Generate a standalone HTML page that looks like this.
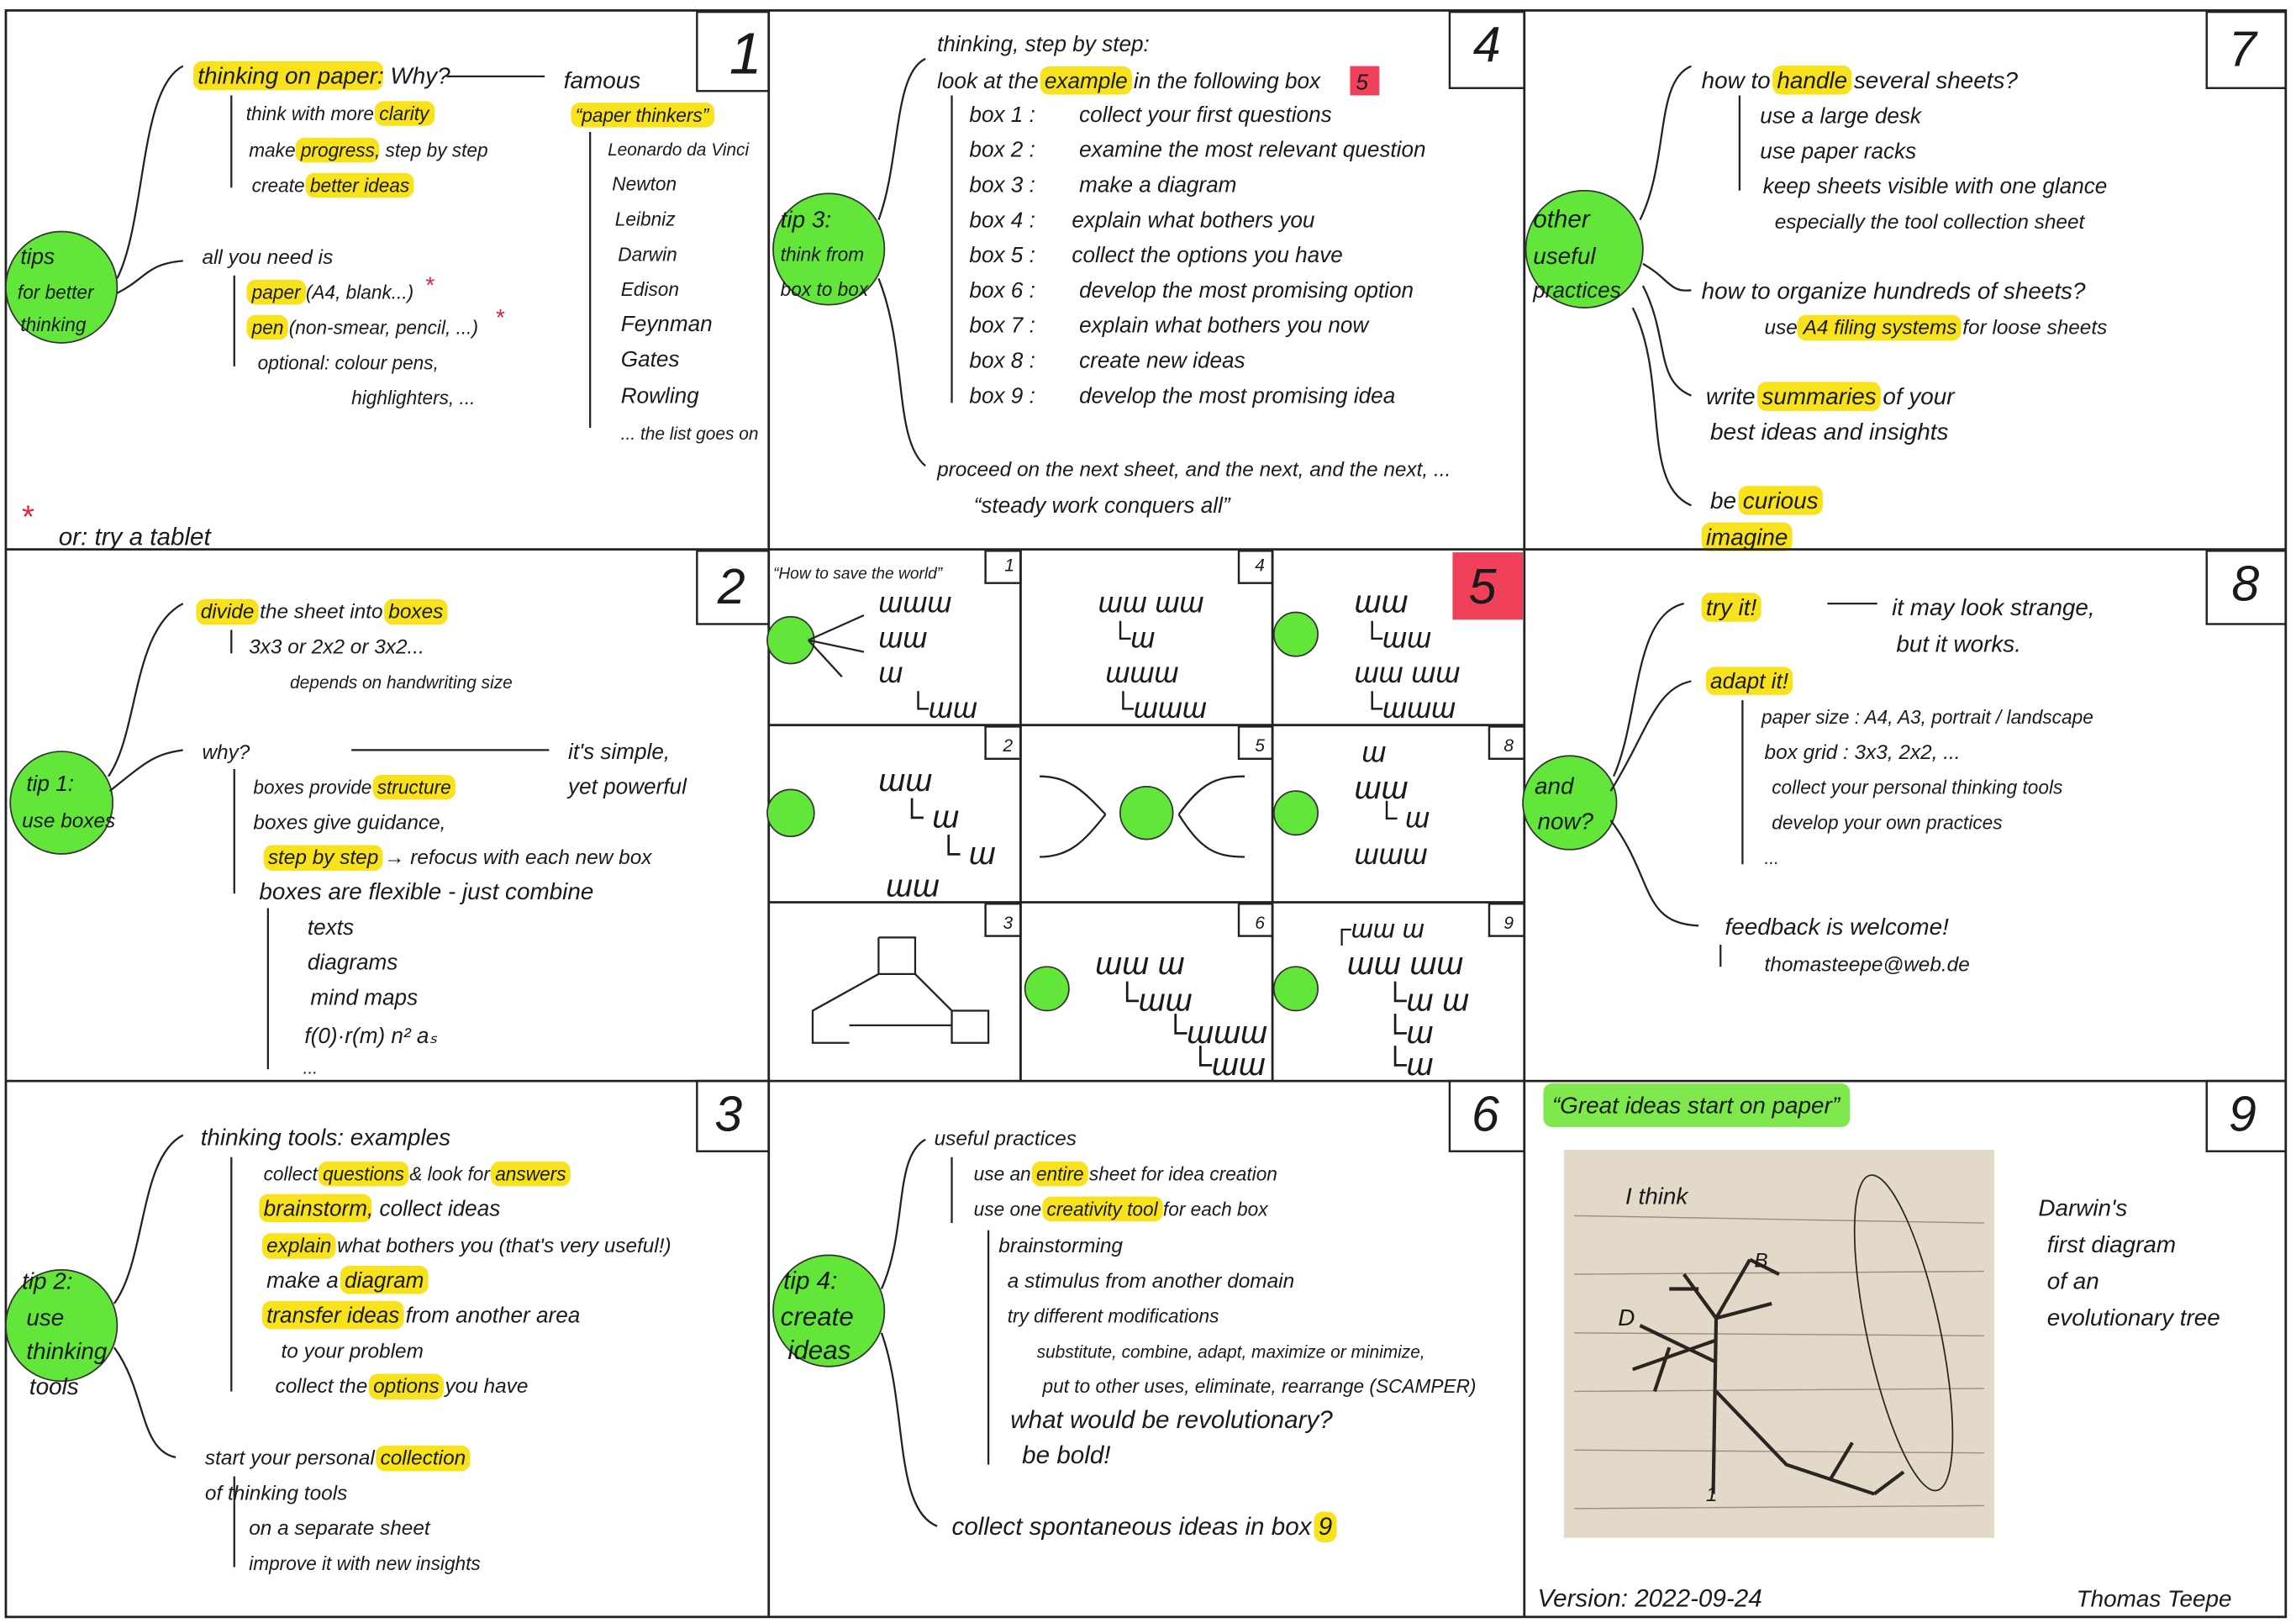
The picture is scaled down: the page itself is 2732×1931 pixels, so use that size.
<!DOCTYPE html>
<html><head><meta charset="utf-8">
<style>
html,body{margin:0;padding:0;background:#fff;}
svg{display:block}
text{font-family:"Liberation Sans",sans-serif;font-style:italic;fill:#1a1a1a;}
</style></head>
<body>
<svg id="s" width="2732" height="1931" viewBox="0 0 1568 1108" xmlns="http://www.w3.org/2000/svg">
<rect x="0" y="0" width="1568" height="1108" fill="#fff"/>
<g id="hl"></g>
<g id="grid" stroke="#222" stroke-width="1.6" fill="none">
  <rect x="4" y="7" width="1557" height="1097"/>
  <line x1="525" y1="7" x2="525" y2="1104"/>
  <line x1="1041" y1="7" x2="1041" y2="1104"/>
  <line x1="4" y1="375" x2="1561" y2="375"/>
  <line x1="4" y1="738" x2="1561" y2="738"/>
  <line x1="697" y1="375" x2="697" y2="738"/>
  <line x1="869" y1="375" x2="869" y2="738"/>
  <line x1="525" y1="495" x2="1041" y2="495"/>
  <line x1="525" y1="616" x2="1041" y2="616"/>
</g>
<rect x="992" y="377" width="48" height="46" fill="#f0405a"/>
<g id="nb" stroke="#222" stroke-width="1.4" fill="none"></g>
<g id="blobs"></g>
<g id="lines" stroke="#222" stroke-width="1.3" fill="none"></g>
<g id="darwin">
  <rect x="1068" y="785" width="294" height="265" fill="#e3d9c8"/>
  <g stroke="#9a8f80" stroke-width="0.8" fill="none">
    <path d="M1075 830 L1355 835 M1075 870 L1355 868 M1075 910 L1355 912 M1075 950 L1355 948 M1075 990 L1355 992 M1075 1030 L1355 1028"/>
  </g>
  <g stroke="#2a2520" stroke-width="2.4" fill="none">
    <path d="M1170 1020 L1172 900 L1150 870 M1172 900 L1195 860 M1172 930 L1120 905 M1172 950 L1220 1000 L1280 1020 M1140 920 L1130 950 M1160 880 L1140 880 M1195 860 L1215 870 M1172 900 L1210 890 M1172 915 L1115 935 M1250 1010 L1265 985 M1280 1020 L1300 1005"/>
    <ellipse cx="1300" cy="910" rx="25" ry="110" transform="rotate(-12 1300 910)" stroke-width="1"/>
  </g>
  <text x="1110" y="822" font-size="16">I think</text>
  <text x="1105" y="905" font-size="16">D</text>
  <text x="1198" y="865" font-size="14">B</text>
  <text x="1165" y="1025" font-size="14">1</text>
</g>
<g id="txt"></g>
</svg>
<script>
const NS="http://www.w3.org/2000/svg";
// [x,y,text,size]  {word}=yellow highlight, [word]=green highlight
const texts=[
["498",50,"1",40],["1006",42,"4",34],["1522",45,"7",34],["490",412,"2",34],["1524",410,"8",34],
["488",772,"3",34],["1005",772,"6",34],["1522",772,"9",34],["1003",412,"5",34],
[135,57,"{thinking on paper}: Why?",16],[385,60,"famous",16],[168,82,"think with more {clarity}",13],
[170,107,"make {progress}, step by step",13],[172,131,"create {better ideas}",13],[393,83,"{“paper thinkers”}",13],
[415,106,"Leonardo da Vinci",12],[418,130,"Newton",13],[420,154,"Leibniz",13],[422,178,"Darwin",13],
[424,202,"Edison",13],[424,226,"Feynman",15],[424,250,"Gates",15],[424,275,"Rowling",15],[424,300,"... the list goes on",12],
[138,180,"all you need is",14],[172,204,"{paper} (A4, blank...)",13],[172,228,"{pen}  (non-smear, pencil, ...)",13],
[176,252,"optional: colour pens,",13],[240,276,"highlighters, ...",13],[40,372,"or:  try a tablet",17],
[14,180,"tips",15],[12,204,"for better",13],[14,226,"thinking",13],
[640,35,"thinking, step by step:",15],[640,60,"look at the {example} in the following box",15],
[662,83,"box 1 :",15],[737,83,"collect your first questions",15],
[662,107,"box 2 :",15],[737,107,"examine the most relevant question",15],
[662,131,"box 3 :",15],[737,131,"make a diagram",15],
[662,155,"box 4 :",15],[732,155,"explain what bothers you",15],
[662,179,"box 5 :",15],[732,179,"collect the options you have",15],
[662,203,"box 6 :",15],[737,203,"develop the most promising option",15],
[662,227,"box 7 :",15],[737,227,"explain what bothers you now",15],
[662,251,"box 8 :",15],[737,251,"create new ideas",15],
[662,275,"box 9 :",15],[737,275,"develop the most promising idea",15],
[533,155,"tip 3:",16],[533,178,"think from",13],[533,202,"box to box",13],
[640,325,"proceed on the next sheet, and the next, and the next, ...",14],[665,350,"“steady work conquers all”",15],
[1047,155,"other",17],[1047,180,"useful",16],[1047,203,"practices",15],
[1162,60,"how to {handle} several sheets?",16],[1202,84,"use a large desk",15],[1202,108,"use paper racks",15],
[1204,132,"keep sheets visible with one glance",15],[1212,156,"especially the tool collection sheet",14],
[1162,204,"how to organize hundreds of sheets?",16],[1205,228,"use {A4 filing systems} for loose sheets",14],
[1165,276,"write {summaries} of your",16],[1168,300,"best ideas and insights",16],[1168,347,"be {curious}",16],[1165,372,"{imagine}",16],
[137,422,"{divide} the sheet into {boxes}",14],[170,446,"3x3 or 2x2 or 3x2...",14],[198,470,"depends on handwriting size",12],
[18,540,"tip 1:",15],[15,565,"use boxes",14],[138,518,"why?",14],[388,518,"it's simple,",15],[388,542,"yet powerful",15],
[173,542,"boxes provide {structure}",13],[173,566,"boxes give guidance,",14],[183,590,"{step by step}  →  refocus with each new box",14],
[177,614,"boxes are flexible  -  just combine",16],[210,638,"texts",15],[210,662,"diagrams",15],[212,686,"mind maps",15],
[208,712,"f(0)·r(m) n² aₛ",15],[207,733,"...",12],
[528,395,"“How to save the world”",11],["686",390,"1",12],["857",390,"4",12],["685",513,"2",12],["857",513,"5",12],["1027",513,"8",12],
["685",634,"3",12],["857",634,"6",12],["1027",634,"9",12],
[600,418,"ɯɯɯ",20],[600,442,"ɯɯ",20],[600,466,"ɯ",20],[620,490,"└ɯɯ",20],
[750,418,"ɯɯ ɯɯ",20],[758,442,"└ɯ",20],[755,466,"ɯɯɯ",20],[760,490,"└ɯɯɯ",20],
[925,418,"ɯɯ",22],[930,442,"└ɯɯ",20],[925,466,"ɯɯ ɯɯ",20],[930,490,"└ɯɯɯ",20],
[600,540,"ɯɯ",22],[615,565,"└ ɯ",22],[640,590,"└ ɯ",22],[605,612,"ɯɯ",22],
[930,520,"ɯ",20],[925,545,"ɯɯ",22],[940,565,"└ ɯ",20],[925,590,"ɯɯɯ",20],
[748,665,"ɯɯ ɯ",22],[762,690,"└ɯɯ",22],[795,712,"└ɯɯɯ",22],[812,734,"└ɯɯ",22],
[910,640,"┌ɯɯ ɯ",18],[920,665,"ɯɯ ɯɯ",22],[945,690,"└ɯ ɯ",22],[945,712,"└ɯ",22],[945,734,"└ɯ",22],
[1048,542,"and",16],[1050,566,"now?",16],[1165,420,"{try it!}",16],[1292,420,"it may look strange,",16],[1295,445,"but it works.",16],
[1168,470,"{adapt it!}",15],[1203,494,"paper size :  A4, A3,  portrait / landscape",13],[1205,518,"box grid  :  3x3, 2x2, ...",14],
[1210,542,"collect your personal thinking tools",13],[1210,566,"develop your own practices",13],[1205,590,"...",12],
[1178,638,"feedback is welcome!",16],[1205,663,"thomasteepe@web.de",14],
[15,880,"tip 2:",16],[18,905,"use",16],[18,928,"thinking",16],[20,952,"tools",16],
[137,782,"thinking tools: examples",16],[180,806,"collect {questions} & look for {answers}",13],[180,830,"{brainstorm}, collect ideas",15],
[182,855,"{explain} what bothers you  (that's very useful!)",14],[182,879,"make a {diagram}",15],[182,903,"{transfer ideas} from another area",15],
[192,927,"to your problem",14],[188,951,"collect the {options} you have",14],
[140,1000,"start your personal {collection}",14],[140,1024,"of thinking tools",14],[170,1048,"on a separate sheet",14],[170,1072,"improve it with new insights",13],
[535,880,"tip 4:",17],[533,905,"create",18],[538,928,"ideas",18],
[638,782,"useful practices",14],[665,806,"use an {entire} sheet for idea creation",13],[665,830,"use one {creativity tool} for each box",13],
[682,855,"brainstorming",14],[688,879,"a stimulus from another domain",14],[688,903,"try different modifications",13],
[708,927,"substitute, combine, adapt, maximize or minimize,",12],[712,951,"put to other uses, eliminate, rearrange (SCAMPER)",13],
[690,975,"what would be revolutionary?",17],[698,999,"be bold!",17],[650,1048,"collect spontaneous ideas in box {9}",17],
[1060,760,"[“Great ideas start on paper”]",16],[1392,830,"Darwin's",16],[1398,855,"first diagram",16],[1398,880,"of an",16],[1398,905,"evolutionary tree",16],
[1050,1097,"Version: 2022-09-24",17],[1418,1097,"Thomas Teepe",16],
[290,200,"*",16],[338,222,"*",16],[14,360,"*",22]
];
// blobs [cx,cy,r]
const blobs=[[42,196,38],[566,170,38],[1082,170,40],[42,548,35],[1072,548,32],[42,905,38],[566,895,38],
[540,437,16],[540,555,16],[885,433,15],[783,555,18],[715,675,15],[885,555,15],[885,675,15]];
// number boxes [x,y,w,h]
const nboxes=[[476,8,49,54],[990,8,51,52],[1507,8,54,52],[476,376,49,50],[1507,376,54,50],[476,738,49,48],[990,738,51,48],[1507,738,54,48],
[673,376,24,22],[846,376,23,22],[673,496,24,22],[846,496,23,22],[1017,496,24,22],[673,617,24,22],[846,617,23,22],[1017,617,24,22]];
const paths=[
"M80 190 C100 150 95 60 125 45","M80 200 C100 190 100 180 125 178",
"M600 150 C615 110 610 50 632 40","M600 190 C620 240 610 300 632 318",
"M1120 150 C1140 110 1130 55 1155 45","M1122 180 C1140 190 1140 200 1155 198","M1122 195 C1140 230 1130 260 1155 270","M1115 210 C1140 260 1120 330 1155 345",
"M74 530 C95 500 90 430 125 412","M75 540 C100 520 105 515 125 512",
"M1102 530 C1120 490 1115 420 1150 412","M1100 540 C1125 500 1130 470 1155 465","M1100 560 C1130 600 1120 630 1160 632",
"M78 890 C100 860 95 790 125 775","M78 920 C100 950 95 990 120 995",
"M602 880 C620 840 610 790 632 778","M602 910 C620 960 610 1030 640 1042",
"M158 65 L158 128","M403 90 L403 292","M160 188 L160 250","M650 65 L650 275","M1188 65 L1188 130",
"M158 430 L158 446","M160 525 L160 610","M183 620 L183 730","M158 790 L158 950","M160 1008 L160 1070","M650 790 L650 835","M675 840 L675 1000",
"M1190 478 L1190 590","M1175 645 L1175 660","M305 52 L372 52","M240 512 L375 512","M1248 412 L1282 412",
"M552 437 L590 420 M552 437 L590 445 M552 437 L575 462",
"M755 556 C740 540 730 530 710 530 M755 556 C740 575 730 585 710 585 M805 556 C820 535 830 530 850 530 M805 556 C820 580 830 585 850 585",
"M600 640 L600 665 L555 690 L555 712 L580 712 M625 665 L650 690 L675 690 L675 712 L650 712 L650 690 M600 640 L625 640 L625 665 L600 665 M580 700 L650 700"
];
const hl=document.getElementById('hl');
const nb=document.getElementById('nb');
nboxes.forEach(b=>{
  const r=document.createElementNS(NS,'rect');
  r.setAttribute('x',b[0]);r.setAttribute('y',b[1]);r.setAttribute('width',b[2]);r.setAttribute('height',b[3]);
  
  
  nb.appendChild(r);
});
const bl=document.getElementById('blobs');
blobs.forEach(b=>{
  const c=document.createElementNS(NS,'circle');
  c.setAttribute('cx',b[0]);c.setAttribute('cy',b[1]);c.setAttribute('r',b[2]);
  c.setAttribute('fill','#62e63a');c.setAttribute('stroke','#333');c.setAttribute('stroke-width','1');
  
  
  bl.appendChild(c);
});
const ln=document.getElementById('lines');
paths.forEach(d=>{
  const p=document.createElementNS(NS,'path');
  p.setAttribute('d',d);
  
  
  ln.appendChild(p);
});
const tg=document.getElementById('txt');
texts.forEach(t=>{
  const e=document.createElementNS(NS,'text');
  e.setAttribute('x',t[0]);e.setAttribute('y',t[1]);e.setAttribute('font-size',t[3]);
  if(t[2]==="*") e.setAttribute('style','fill:#e8203a');
  
  
  const parts=t[2].split(/(\{[^}]*\}|\[[^\]]*\])/);
  const marks=[];
  parts.forEach(p=>{
    if(!p) return;
    const s=document.createElementNS(NS,'tspan');
    if(p[0]==='{'||p[0]==='['){s.textContent=p.slice(1,-1);marks.push([s,p[0]==='['?'#7fe84c':'#f7e21c']);}
    else s.textContent=p;
    e.appendChild(s);
  });
  tg.appendChild(e);
  marks.forEach(m=>{
    const b=m[0].getBBox();
    const r=document.createElementNS(NS,'rect');
    const g=m[1]==='#7fe84c';
    r.setAttribute('x',b.x-(g?6:3));r.setAttribute('y',b.y-(g?6:1));
    r.setAttribute('width',b.width+(g?12:6));r.setAttribute('height',b.height+(g?12:2));
    r.setAttribute('rx',6);r.setAttribute('fill',m[1]);
    
    
    hl.appendChild(r);
  });
});
// red box-5 reference marker after "following box"
const ref=document.createElementNS(NS,'rect');
ref.setAttribute('x',922);ref.setAttribute('y',45);ref.setAttribute('width',20);ref.setAttribute('height',20);ref.setAttribute('fill','#f0405a');


hl.appendChild(ref);
const rt=document.createElementNS(NS,'text');
rt.setAttribute('x',926);rt.setAttribute('y',61);rt.setAttribute('font-size',15);rt.textContent='5';


tg.appendChild(rt);
</script>
</body></html>
